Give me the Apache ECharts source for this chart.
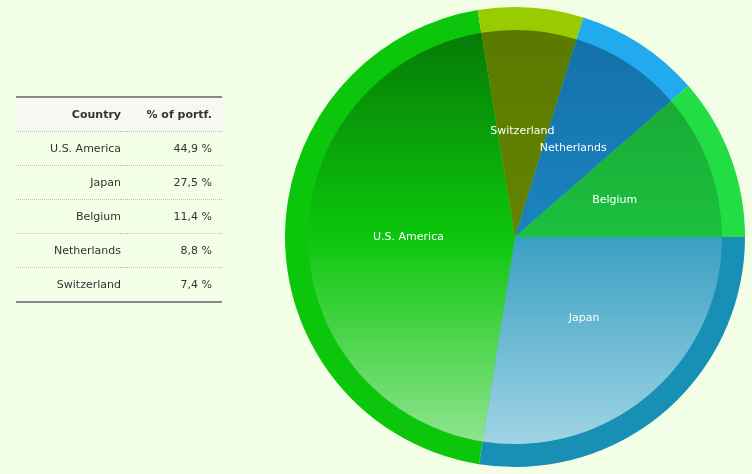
<!DOCTYPE html><html><head><meta charset="utf-8">
<script src="https://cdn.jsdelivr.net/npm/echarts@6/dist/echarts.min.js"></script>
<style>
body{margin:0;background:#f3fee6;font-family:"DejaVu Sans",sans-serif;}
#c{position:absolute;left:0;top:0;width:752px;height:474px;}
table{position:absolute;left:16px;top:96px;width:206px;border-collapse:collapse;font-size:11px;color:#333;border-top:2px solid #888;border-bottom:2px solid #888;}
th{background:#f8f8f3;height:33px;text-align:right;padding:0 10px;font-weight:bold;}
td{height:33px;text-align:right;padding:0 10px;border-top:1px dotted #bbb;}
th:first-child,td:first-child{width:95px;padding-right:0;}
</style></head><body>
<div id="c"></div>
<table id="t"></table>
<script>
const categories=["Japan","U.S. America","Switzerland","Netherlands","Belgium"];
const values=[27.5,44.9,7.4,8.8,11.4];
const tableOrder=["U.S. America","Japan","Belgium","Netherlands","Switzerland"];
const tableHead=["Country","% of portf."];
const ringColors=["#1890b5","#0cc60c","#99cc00","#22aaee","#22dd44"];
const innerTop=["#1a7ea6","#067a06","#5a7a00","#1470a8","#18a030"];
const innerMid=["#3aa0c2","#0cc60c","#628400","#1a84c0","#1cc040"];
const innerBot=["#a0d4e4","#90e490","#6a8c00","#2098dc","#22e04c"];
let h='<tr><th>'+tableHead[0]+'</th><th>'+tableHead[1]+'</th></tr>';
tableOrder.forEach(n=>{const v=values[categories.indexOf(n)];h+='<tr><td>'+n+'</td><td>'+v.toFixed(1).replace('.',',')+' %</td></tr>';});
document.getElementById('t').innerHTML=h;
const ch=echarts.init(document.getElementById('c'));
const g=(i)=>({type:'linear',x:0,y:30,x2:0,y2:444,global:true,colorStops:[{offset:0,color:innerTop[i]},{offset:0.5,color:innerMid[i]},{offset:1,color:innerBot[i]}]});
ch.setOption({animation:false,series:[
{type:'pie',center:[515,237],radius:[0,230],startAngle:0,clockwise:true,silent:true,label:{show:false},labelLine:{show:false},
 data:categories.map((n,i)=>({name:n,value:values[i],itemStyle:{color:ringColors[i]}}))},
{type:'pie',center:[515,237],radius:[0,207],startAngle:0,clockwise:true,
 label:{show:true,position:'inner',color:'#fff',fontSize:11,fontFamily:'DejaVu Sans'},labelLine:{show:false},
 data:categories.map((n,i)=>({name:n,value:values[i],itemStyle:{color:g(i)}}))}
]});
</script></body></html>
